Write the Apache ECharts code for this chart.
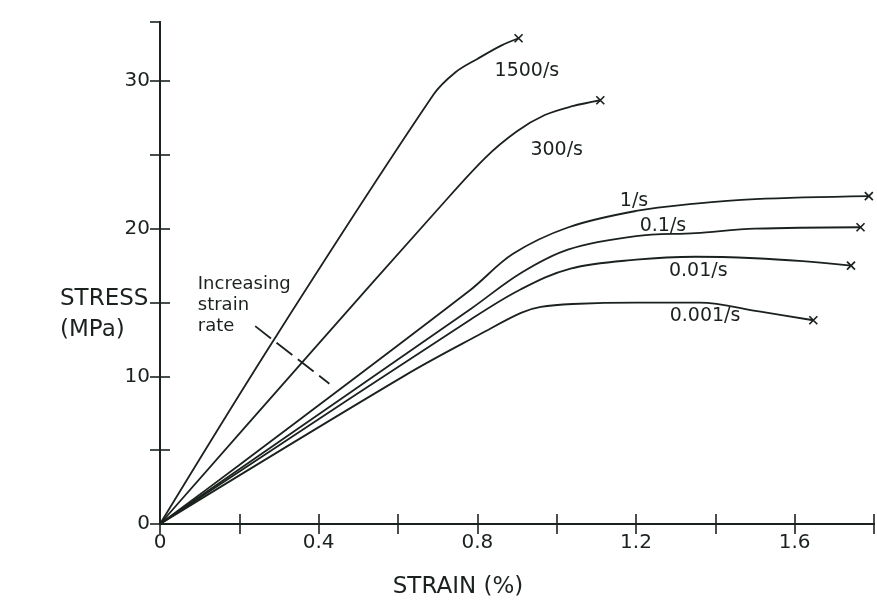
<!DOCTYPE html>
<html>
<head>
<meta charset="utf-8">
<script src="https://cdn.jsdelivr.net/npm/echarts@6/dist/echarts.min.js"></script>
<style>
  html, body { margin: 0; padding: 0; background: #ffffff; }
  #chart { width: 877px; height: 602px; }
</style>
</head>
<body>
<div id="chart"></div>
<script>
// Stress (MPa) versus strain (%) at several strain rates.
const rate1500 = [[0, 0], [0.29, 12.6], [0.69, 29.1], [0.745, 30.6], [0.80, 31.5], [0.86, 32.4], [0.904, 32.9]];
const rate300 = [[0, 0], [0.37, 11.3], [0.70, 21.3], [0.82, 24.8], [0.90, 26.6], [0.97, 27.7], [1.04, 28.3], [1.11, 28.7]];
const rate1 = [[0, 0], [0.20, 4.0], [0.78, 15.8], [0.89, 18.3], [1.03, 20.1], [1.20, 21.2], [1.35, 21.7], [1.50, 22.0], [1.787, 22.2]];
const rate01 = [[0, 0], [0.785, 14.6], [0.91, 17.0], [1.03, 18.6], [1.20, 19.5], [1.35, 19.7], [1.50, 20.0], [1.766, 20.1]];
const rate001 = [[0, 0], [0.786, 13.9], [0.91, 15.9], [1.035, 17.3], [1.20, 17.9], [1.35, 18.1], [1.50, 18.0], [1.62, 17.8], [1.742, 17.5]];
const rate0001 = [[0, 0], [0.62, 10.1], [0.81, 12.9], [0.91, 14.3], [0.96, 14.7], [1.04, 14.9], [1.20, 15.0], [1.36, 15.0], [1.51, 14.4], [1.647, 13.8]];

const curves = [rate1500, rate300, rate1, rate01, rate001, rate0001];

// Curve names and where each name is written (strain, stress)
const curveNames = ['1500/s', '300/s', '1/s', '0.1/s', '0.01/s', '0.001/s'];
const nameAnchors = [[0.925, 30.7], [1.00, 25.3], [1.195, 21.9], [1.268, 20.2], [1.357, 17.1], [1.374, 14.1]];

// Note and its dashed pointer across the curves
const noteText = 'Increasing\nstrain\nrate';
const noteAnchor = [0.094, 14.8];
const notePointer = [[0.240, 13.4], [0.427, 9.5]];

// Axis ranges and labelled ticks
const xRange = [0, 1.8];
const yRange = [0, 34];
const xTickStep = 0.2;
const yTickStep = 5;
const xTickLabels = [0, 0.4, 0.8, 1.2, 1.6];
const yTickLabels = [0, 10, 20, 30];

const ink = '#1b221e';
const fontFamily = 'DejaVu Sans';

const isLabelled = (v, list) => list.some(t => Math.abs(t - v) < 1e-6);

const frameAxis = {
  axisLine: { show: true, lineStyle: { color: ink, width: 2 } },
  axisTick: { show: true, inside: true, length: 10, lineStyle: { color: ink, width: 1.6 } },
  splitLine: { show: false }
};

const chart = echarts.init(document.getElementById('chart'), null, { renderer: 'canvas' });

const lineSeries = curves.map((pts, i) => ({
  type: 'line',
  name: curveNames[i],
  xAxisIndex: 0,
  yAxisIndex: 0,
  data: pts,
  smooth: 0.35,
  symbol: 'none',
  lineStyle: { color: ink, width: 1.8 },
  z: 3
}));

const endMarks = {
  type: 'scatter',
  data: curves.map(pts => pts[pts.length - 1]),
  symbol: 'path://M0,0L10,10M10,0L0,10',
  symbolSize: 8,
  itemStyle: { color: 'rgba(0,0,0,0)', borderColor: ink, borderWidth: 1.7, opacity: 1 },
  z: 4,
  silent: true
};

const textStyleBase = { color: ink, fontFamily, textBorderWidth: 0, opacity: 1 };

const nameLabels = {
  type: 'scatter',
  data: nameAnchors.map((p, i) => ({ name: curveNames[i], value: p })),
  symbolSize: 1,
  itemStyle: { color: 'rgba(0,0,0,0)', opacity: 1 },
  label: Object.assign({
    show: true,
    position: 'inside',
    formatter: p => p.name,
    fontSize: 19
  }, textStyleBase),
  z: 5,
  silent: true
};

const note = {
  type: 'scatter',
  data: [{ name: noteText, value: noteAnchor }],
  symbolSize: 1,
  itemStyle: { color: 'rgba(0,0,0,0)', opacity: 1 },
  label: Object.assign({
    show: true,
    position: 'right',
    distance: 0,
    align: 'left',
    verticalAlign: 'middle',
    formatter: p => p.name,
    fontSize: 18,
    lineHeight: 21
  }, textStyleBase),
  z: 5,
  silent: true
};

const pointer = {
  type: 'line',
  data: notePointer,
  symbol: 'none',
  lineStyle: { color: ink, width: 1.8, type: [20, 7] },
  z: 3,
  silent: true
};

chart.setOption({
  animation: false,
  backgroundColor: '#ffffff',
  grid: { left: 160, right: 3, top: 22, bottom: 78, containLabel: false },
  xAxis: [
    Object.assign({
      type: 'value', position: 'bottom',
      min: xRange[0], max: xRange[1], interval: xTickStep,
      axisLabel: {
        show: true, margin: 9, color: ink, fontFamily, fontSize: 20,
        formatter: v => isLabelled(v, xTickLabels) ? String(+v.toFixed(1)) : ''
      }
    }, frameAxis),
    Object.assign({
      type: 'value', position: 'top',
      min: xRange[0], max: xRange[1], interval: xTickStep,
      axisLabel: { show: false }
    }, frameAxis)
  ],
  yAxis: [
    Object.assign({
      type: 'value', position: 'left',
      min: yRange[0], max: yRange[1], interval: yTickStep,
      axisLabel: {
        show: true, margin: 10, color: ink, fontFamily, fontSize: 20,
        showMaxLabel: false,
        formatter: v => isLabelled(v, yTickLabels) ? String(v) : ''
      }
    }, frameAxis),
    Object.assign({
      type: 'value', position: 'right',
      min: yRange[0], max: yRange[1], interval: yTickStep,
      axisLabel: { show: false }
    }, frameAxis)
  ],
  graphic: [
    {
      type: 'text', left: 60, top: 284,
      style: {
        text: 'STRESS\n(MPa)', x: 0, y: 0,
        fill: ink, font: '23px "DejaVu Sans"',
        align: 'center', verticalAlign: 'middle', lineHeight: 31
      }
    },
    {
      type: 'text',
      style: {
        text: 'STRAIN (%)', x: 458, y: 587,
        fill: ink, font: '23px "DejaVu Sans"',
        align: 'center', verticalAlign: 'middle'
      }
    }
  ],
  series: lineSeries.concat([endMarks, nameLabels, note, pointer])
});
</script>
</body>
</html>
